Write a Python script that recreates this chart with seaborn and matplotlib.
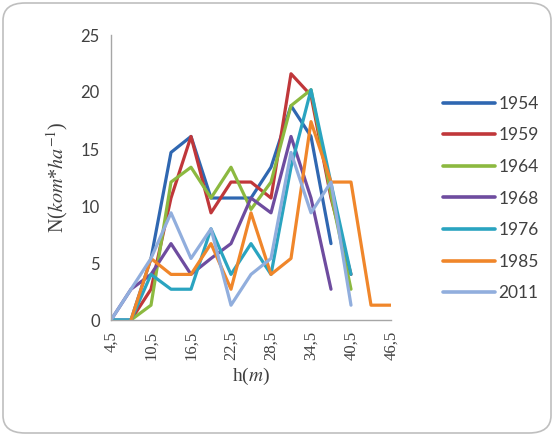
import matplotlib
matplotlib.use("Agg")
import matplotlib.pyplot as plt
from matplotlib.patches import FancyBboxPatch
import numpy as np
import pandas as pd
import seaborn as sns

# height classes (m) and tree density per class, one list per survey year
heights = [4.5, 7.5, 10.5, 13.5, 16.5, 19.5, 22.5, 25.5, 28.5, 31.5, 34.5, 37.5, 40.5, 43.5, 46.5]
tick_labels = [f"{h:.1f}".replace(".", ",") for h in heights]
nan = np.nan

n_1954 = [0, 0, 5.4, 14.7, 16.1, 10.7, 10.7, 10.7, 13.4, 18.8, 16.1, 6.7, nan, nan, nan]
n_1959 = [nan, 0, 2.7, 10.7, 16.1, 9.4, 12.1, 12.1, 10.7, 21.6, 19.7, 10.7, 4.0, nan, nan]
n_1964 = [nan, 0, 1.3, 12.1, 13.4, 10.7, 13.4, 9.7, 12.1, 18.8, 20.2, 11.0, 2.7, nan, nan]
n_1968 = [0, 2.7, 4.0, 6.7, 4.0, 5.4, 6.7, 10.7, 9.4, 16.1, 10.7, 2.7, nan, nan, nan]
n_1976 = [0, 0, 4.0, 2.7, 2.7, 8.0, 4.0, 6.7, 4.0, 13.4, 20.2, 12.0, 4.0, nan, nan]
n_1985 = [nan, 0, 5.4, 4.0, 4.0, 6.7, 2.7, 9.4, 4.0, 5.4, 17.4, 12.1, 12.1, 1.3, 1.3]
n_2011 = [0, 2.7, 5.4, 9.4, 5.4, 8.0, 1.3, 4.0, 5.4, 14.7, 9.4, 12.1, 1.3, nan, nan]

years = ["1954", "1959", "1964", "1968", "1976", "1985", "2011"]
series = [n_1954, n_1959, n_1964, n_1968, n_1976, n_1985, n_2011]
colors = ["#2F67B1", "#C0373A", "#8CB940", "#6E4C9F", "#2AA4C0", "#F0862A", "#91AEDD"]

rows = []
for year, vals in zip(years, series):
    for i, v in enumerate(vals):
        rows.append({"pos": i, "N": v, "year": year})
df = pd.DataFrame(rows).dropna()

sns.set_style("white")
plt.rcParams["mathtext.fontset"] = "stix"

fig = plt.figure(figsize=(5.54, 4.36), dpi=100)
ax = fig.add_axes([111 / 554, 1 - 320 / 436, 280 / 554, 285 / 436])

sns.lineplot(data=df, x="pos", y="N", hue="year", palette=dict(zip(years, colors)),
             linewidth=2.3, legend=False, ax=ax, sort=True, estimator=None)

ax.set_xlim(0, len(heights) - 1)
ax.set_ylim(0, 25)
ax.set_xticks(range(len(heights)))
ax.set_xticklabels([t if i % 2 == 0 else "" for i, t in enumerate(tick_labels)],
                   rotation=90, family="Liberation Serif", fontsize=12, color="#404040")
ax.set_yticks([0, 5, 10, 15, 20, 25])
ax.set_yticklabels(["0", "5", "10", "15", "20", "25"], family="Lato", fontsize=12, color="#404040")
ax.tick_params(axis="both", direction="out", length=5, width=1, color="#A6A6A6", pad=3)

for side in ["top", "right"]:
    ax.spines[side].set_visible(False)
for side in ["left", "bottom"]:
    ax.spines[side].set_color("#A6A6A6")
    ax.spines[side].set_linewidth(1)

ax.set_xlabel(r"h($\mathit{m}$)", family="Liberation Serif", fontsize=14, color="#404040", labelpad=4)
ax.set_ylabel(r"N($\mathit{kom}$*$\mathit{ha}^{-1}$)", family="Liberation Serif",
              fontsize=14.5, color="#404040", labelpad=8)

handles = [plt.Line2D([], [], color=c, linewidth=2.6) for c in colors]
fig.legend(handles, years, loc="upper left", bbox_to_anchor=(427 / 554, 1 - 80 / 436),
           frameon=False, handlelength=3.0, handletextpad=0.2, labelspacing=0.9,
           prop={"family": "Lato", "size": 12.5}, labelcolor="#404040")

border = FancyBboxPatch((3 / 554, 3 / 436), 548 / 554, 430 / 436,
                        boxstyle="round,pad=0,rounding_size=0.04",
                        transform=fig.transFigure, facecolor="none",
                        edgecolor="#BFBFBF", linewidth=1.2)
fig.patches.append(border)

fig.savefig("out.png", dpi=100)
